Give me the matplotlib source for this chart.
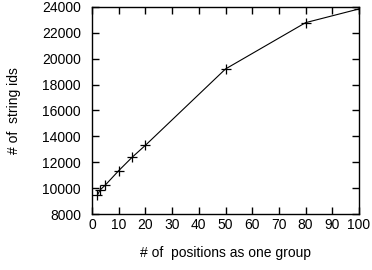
import matplotlib
matplotlib.use("Agg")
import matplotlib.pyplot as plt

group_sizes = [2, 3, 5, 10, 15, 20, 50, 80, 100]
string_ids = [9450, 9850, 10240, 11350, 12380, 13310, 19210, 22790, 23850]
x_ticks = [0, 10, 20, 30, 40, 50, 60, 70, 80, 90, 100]
y_ticks = [8000, 10000, 12000, 14000, 16000, 18000, 20000, 22000, 24000]

plt.rcParams['font.family'] = ['Liberation Sans', 'DejaVu Sans']
fig = plt.figure(figsize=(3.72, 2.70), dpi=100)
ax = fig.add_axes([92/372, 1 - 214/270, (359-92)/372, (214-7)/270])
ax.plot(group_sizes, string_ids, color='black', linewidth=0.8, marker='+',
        markersize=7, markeredgewidth=0.9)
ax.set_xlim(0, 100)
ax.set_ylim(8000, 24000)
ax.set_xticks(x_ticks)
ax.set_yticks(y_ticks)
ax.tick_params(direction='in', top=True, right=True, length=5, width=1,
               labelsize=10)
ax.tick_params(axis='x', pad=3)
ax.tick_params(axis='y', pad=8)
for s in ax.spines.values():
    s.set_linewidth(1)
ax.set_xlabel('# of  positions as one group', fontsize=10, labelpad=10)
ax.set_ylabel('# of  string ids', fontsize=10, labelpad=15)
fig.savefig('out.png', dpi=100)
